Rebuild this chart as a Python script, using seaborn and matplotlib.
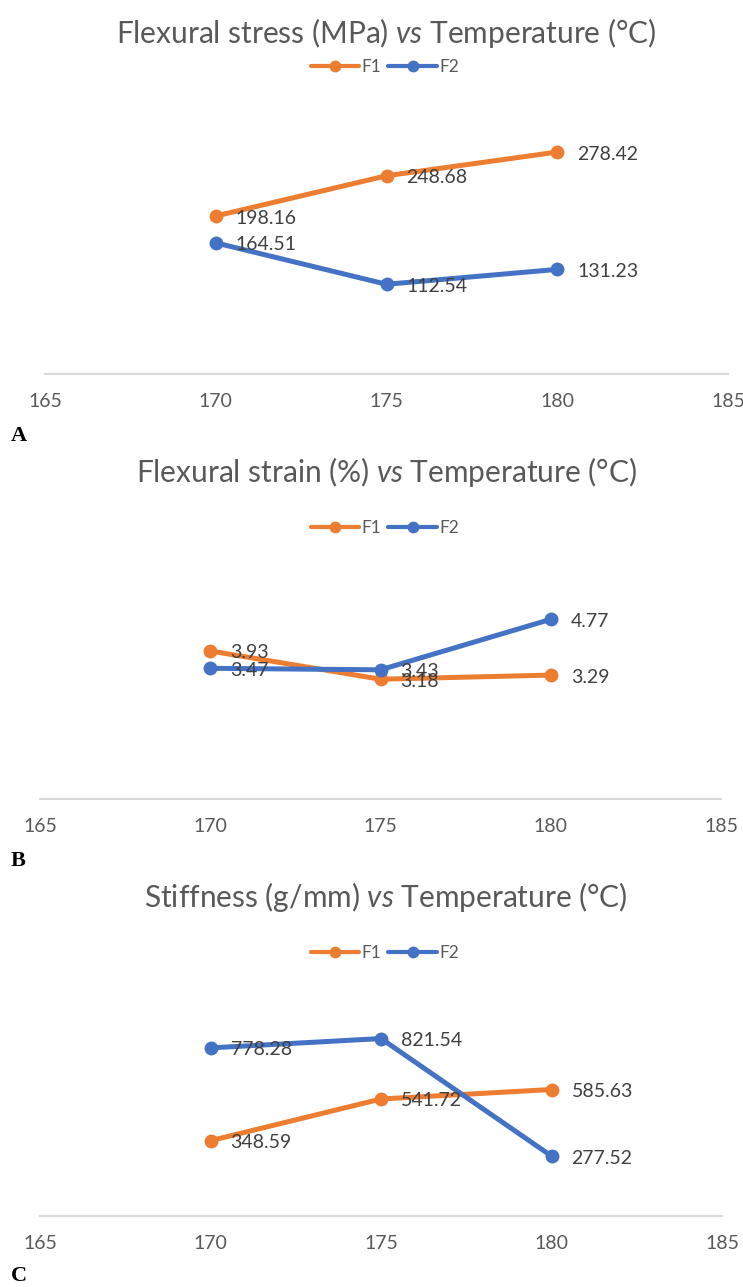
import pandas as pd
import seaborn as sns
from matplotlib import pyplot as plt
from matplotlib.lines import Line2D

# data
temps = [170, 175, 180]
series_names = ["F1", "F2"]

stress_f1 = [198.16, 248.68, 278.42]
stress_f2 = [164.51, 112.54, 131.23]

strain_f1 = [3.93, 3.18, 3.29]
strain_f2 = [3.47, 3.43, 4.77]

stiff_f1 = [348.59, 541.72, 585.63]
stiff_f2 = [778.28, 821.54, 277.52]

x_ticks = [165, 170, 175, 180, 185]
titles = [
    r"Flexural stress (MPa) $\it{vs}$ Temperature (°C)",
    r"Flexural strain (%) $\it{vs}$ Temperature (°C)",
    r"Stiffness (g/mm) $\it{vs}$ Temperature (°C)",
]
panel_letters = ["A", "B", "C"]

ORANGE = "#ED7D31"
BLUE = "#4472C4"
W, H = 743, 1287

sns.set_style("white")
plt.rcParams["font.family"] = ["Lato", "DejaVu Sans"]
plt.rcParams["mathtext.fontset"] = "custom"
plt.rcParams["mathtext.it"] = "Lato:italic"
plt.rcParams["mathtext.rm"] = "Lato"


def rect(left, right, top, bottom):
    return [left / W, 1 - bottom / H, (right - left) / W, (bottom - top) / H]


# panel layout in pixels: (x of 165, x of 185, top, bottom, ymax, title y, legend y, letter y)
layout = [
    (45, 728, 95, 374, 350, 33, 67, 436),
    (40, 721, 573, 799, 6, 472, 528, 861),
    (40, 722, 1000, 1216, 1000, 897, 953, 1276),
]
values = [(stress_f1, stress_f2), (strain_f1, strain_f2), (stiff_f1, stiff_f2)]

fig = plt.figure(figsize=(W / 100, H / 100), dpi=100)

for i, (f1, f2) in enumerate(values):
    x0, x1, top, bottom, ymax, ty, ly, lety = layout[i]
    ax = fig.add_axes(rect(x0, x1, top, bottom))

    df = pd.DataFrame({
        "Temperature": temps * 2,
        "value": list(f1) + list(f2),
        "series": [series_names[0]] * 3 + [series_names[1]] * 3,
    })
    sns.lineplot(data=df, x="Temperature", y="value", hue="series",
                 palette=[ORANGE, BLUE], marker="o", markersize=10,
                 markeredgewidth=0, linewidth=3.6, sort=False,
                 estimator=None, legend=False, ax=ax)

    for row in df.itertuples():
        ax.annotate(f"{row.value:.2f}", (row.Temperature, row.value),
                    xytext=(20, -2), textcoords="offset pixels",
                    ha="left", va="center", fontsize=14, color="#404040")

    ax.set_xlim(165, 185)
    ax.set_ylim(0, ymax)
    ax.set_xticks(x_ticks)
    ax.set_yticks([])
    ax.set_xlabel("")
    ax.set_ylabel("")
    ax.tick_params(axis="x", length=0, pad=14, labelsize=14, labelcolor="#595959")
    for side in ["top", "right", "left"]:
        ax.spines[side].set_visible(False)
    ax.spines["bottom"].set_color("#D9D9D9")
    ax.spines["bottom"].set_linewidth(1.5)
    ax.set_facecolor("none")

    fig.text(386 / W, 1 - ty / H, titles[i], ha="center", va="center",
             fontsize=21.5, color="#595959")

    handles = [
        Line2D([], [], color=ORANGE, lw=3, marker="o", markersize=8.5, markeredgewidth=0),
        Line2D([], [], color=BLUE, lw=3, marker="o", markersize=8.5, markeredgewidth=0),
    ]
    ax.legend(handles, series_names, loc="center", ncol=2,
              bbox_to_anchor=(385 / W, 1 - ly / H), bbox_transform=fig.transFigure,
              frameon=False, fontsize=12.5, labelcolor="#595959",
              handlelength=2.8, handletextpad=0.15, columnspacing=0.4)

    fig.text(11 / W, 1 - lety / H, panel_letters[i], ha="left", va="center",
             fontsize=16, fontweight="bold", family="Liberation Serif", color="black")

fig.savefig("out.png", dpi=100)
